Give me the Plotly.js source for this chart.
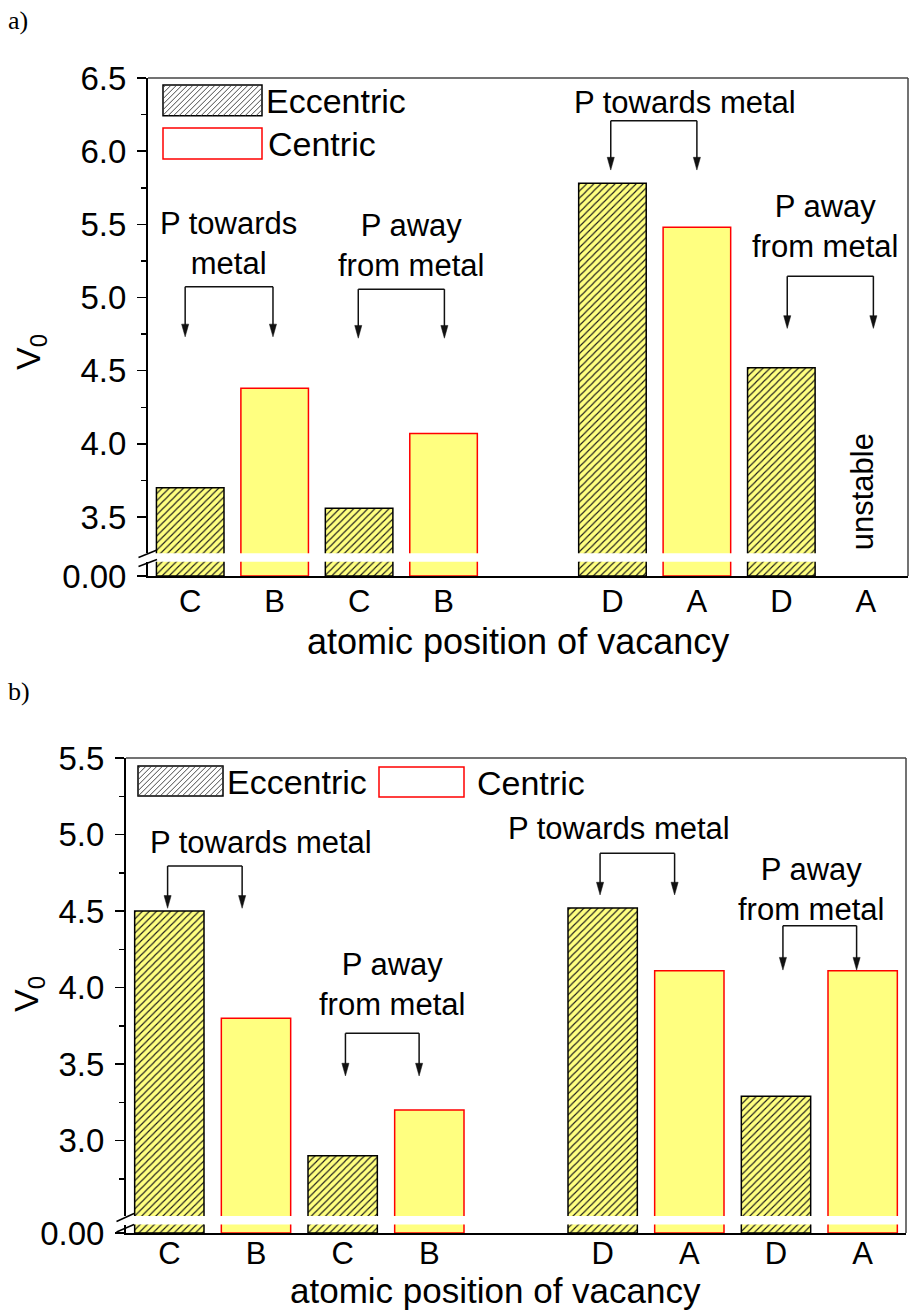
<!DOCTYPE html>
<html><head><meta charset="utf-8">
<script src="https://cdn.plot.ly/plotly-3.0.1.min.js"></script>
<style>html,body{margin:0;padding:0;background:#fff}#chart{width:911px;height:1310px}</style>
</head><body><div id="chart"></div>
<script>
// ---------------- data ----------------
const tickPositions = [1, 2, 3, 4, 6, 7, 8, 9];
const tickLabels = ['C', 'B', 'C', 'B', 'D', 'A', 'D', 'A'];
const eccentricPositions = [1, 3, 6, 8];
const centricPositions = [2, 4, 7, 9];
const eccentricA = [3.70, 3.56, 5.78, 4.52];
const centricA = [4.38, 4.07, 5.48, null];
const eccentricB = [4.50, 2.90, 4.52, 3.29];
const centricB = [3.80, 3.20, 4.11, 4.11];
const seriesNames = ['Eccentric', 'Centric'];
const xTitle = 'atomic position of vacancy';
const yTitle = 'V<sub>0</sub>';
const groupLabelsA = ['P towards<br>metal', 'P away<br>from metal', 'P towards metal', 'P away<br>from metal'];
const groupLabelsB = ['P towards metal', 'P away<br>from metal', 'P towards metal', 'P away<br>from metal'];
const unstableLabel = 'unstable';
const panelLabels = ['a)', 'b)'];

// ---------------- layout geometry (pixels of the 911x1310 page) ----------------
const W = 911, H = 1310;
const px = v => v / W;
const py = v => 1 - v / H;
const FONT = 'Liberation Sans, Arial, sans-serif';
const YELLOW = '#FFFF80';
const panelA = {x: [148, 908], up: [78, 553.3], low: [561.7, 576], range: [3.252, 6.5],
                xTitle: [518, 641], xTitleSize: 36, yTitle: [31, 352], labelStandoff: -3,
                arrowLen: 0.087, arrowHalf: 0.042};
const panelB = {x: [126, 906], up: [758, 1216], low: [1224.5, 1233], range: [2.507, 5.5],
                xTitle: [495, 1290], xTitleSize: 35, yTitle: [29, 994], labelStandoff: -8,
                arrowLen: 0.083, arrowHalf: 0.041};

// bracket geometry in data units: [xLeft, xRight, yBar, yTipLeft, yTipRight]
const bracketsA = [[0.94, 1.98, 5.073, 4.731, 4.731], [2.99, 4.01, 5.057, 4.722, 4.722],
                   [5.98, 7.00, 6.208, 5.871, 5.871], [8.07, 9.09, 5.146, 4.789, 4.789]];
const labelPosA = [[1.45, 5.372], [3.615, 5.355], [6.858, 6.335], [8.515, 5.483]];
const bracketsB = [[0.98, 1.84, 4.794, 4.518, 4.518], [3.032, 3.882, 3.701, 3.422, 3.422],
                   [5.97, 6.83, 4.877, 4.605, 4.605], [8.08, 8.93, 4.404, 4.114, 4.114]];
const labelPosB = [[2.06, 4.945], [3.567, 4.023], [6.19, 5.04], [8.405, 4.642]];

function bars(xs, ys, name, xa, ya, hatched) {
  const marker = {color: YELLOW, line: {color: hatched ? '#000000' : '#ff0000', width: 1.5}};
  if (hatched) marker.pattern = {shape: '/', fgcolor: '#1a1a1a', bgcolor: YELLOW, size: 5, solidity: 0.22};
  return {type: 'bar', x: xs, y: ys, name: name, xaxis: xa, yaxis: ya, width: 0.8,
          showlegend: false, hoverinfo: 'skip', marker: marker};
}

const traces = [];
[['x', 'y', 'x2', 'y2', eccentricA, centricA], ['x3', 'y3', 'x4', 'y4', eccentricB, centricB]].forEach(p => {
  traces.push(bars(eccentricPositions, p[4], seriesNames[0], p[0], p[1], true));
  traces.push(bars(centricPositions, p[5], seriesNames[1], p[0], p[1], false));
  traces.push(bars(eccentricPositions, p[4], seriesNames[0], p[2], p[3], true));
  traces.push(bars(centricPositions, p[5], seriesNames[1], p[2], p[3], false));
});

function xBottom(panel, anchor) {
  return {domain: [px(panel.x[0]), px(panel.x[1])], anchor: anchor, range: [0.5, 9.5],
          tickvals: tickPositions, ticktext: tickLabels, ticks: '', showline: true,
          linecolor: '#000', linewidth: 2, tickfont: {size: 31, color: '#000'},
          ticklabelstandoff: panel.labelStandoff,
          showgrid: false, zeroline: false, automargin: false};
}
function xHidden(match, panel, anchor) {
  return {matches: match, anchor: anchor, domain: [px(panel.x[0]), px(panel.x[1])],
          showticklabels: false, ticks: '', showline: false, showgrid: false, zeroline: false};
}
function yLow(panel, anchor) {
  return {domain: [py(panel.low[1]), py(panel.low[0])], anchor: anchor, range: [0, 1],
          tickvals: [0], ticktext: ['0.00'], ticks: 'outside', ticklen: 9, tickwidth: 1.5, tickcolor: '#000',
          showline: true, linecolor: '#000', linewidth: 2, tickfont: {size: 33, color: '#000'},
          ticklabelstandoff: 4, showgrid: false, zeroline: false, automargin: false};
}
function yUp(panel, anchor) {
  return {domain: [py(panel.up[1]), py(panel.up[0])], anchor: anchor, range: panel.range,
          tick0: 0, dtick: 0.5, tickformat: '.1f', ticks: 'outside', ticklen: 9, tickwidth: 1.5, tickcolor: '#000',
          minor: {dtick: 0.25, ticks: 'outside', ticklen: 5, tickwidth: 1.5, tickcolor: '#000', showgrid: false},
          showline: true, linecolor: '#000', linewidth: 2, tickfont: {size: 33, color: '#000'},
          ticklabelstandoff: 4, showgrid: false, zeroline: false, automargin: false};
}

const shapes = [];
const annotations = [];

function line(x0, y0, x1, y1, color, width) {
  shapes.push({type: 'line', xref: 'paper', yref: 'paper', x0: px(x0), y0: py(y0), x1: px(x1), y1: py(y1),
               line: {color: color, width: width}});
}
// frame (top + right) and axis-break marks
[panelA, panelB].forEach(p => {
  line(p.x[0], p.up[0], p.x[1], p.up[0], '#444', 1.5);
  line(p.x[1], p.up[0], p.x[1], p.low[1], '#444', 1.5);
});
line(138.5, 557.5, 157, 550, '#000', 1.5);
line(138.5, 566.5, 157, 559.5, '#000', 1.5);
line(116.5, 1221.5, 134, 1213.5, '#000', 1.5);
line(116.5, 1232, 134, 1224.5, '#000', 1.5);

// legend swatches
function swatch(x0, y0, x1, y1, color, hatched) {
  shapes.push({type: 'rect', xref: 'paper', yref: 'paper', x0: px(x0), y0: py(y0), x1: px(x1), y1: py(y1),
               fillcolor: '#fff', line: {color: color, width: 1.5}});
  if (!hatched) return;
  const h = y1 - y0, s = 5.5;
  for (let c = x0 - h + s / 2; c < x1; c += s) {
    let ax = c, ay = y1, bx = c + h, by = y0;
    if (ax < x0) { ay = y1 - (x0 - ax); ax = x0; }
    if (bx > x1) { by = y0 + (bx - x1); bx = x1; }
    if (bx - ax < 0.5) continue;
    line(ax, ay, bx, by, '#333', 0.9);
  }
}
function legendText(x, y, text) {
  annotations.push({xref: 'paper', yref: 'paper', x: px(x), y: py(y), text: text, showarrow: false,
                    xanchor: 'left', yanchor: 'middle', font: {size: 34, color: '#000'}});
}
swatch(163, 85, 262, 115.7, '#000', true);
swatch(163, 128, 262, 159, '#ff0000', false);
legendText(264, 101, seriesNames[0]);
legendText(266, 144, seriesNames[1]);
swatch(138, 766, 223, 796, '#000', true);
swatch(379, 767, 464, 797, '#ff0000', false);
legendText(225, 782, seriesNames[0]);
legendText(475, 783, seriesNames[1]);

// brackets with arrows and their labels
function brackets(list, labels, pos, xa, ya, panel) {
  const L = panel.arrowLen, w = panel.arrowHalf;
  list.forEach((b, i) => {
    shapes.push({type: 'line', xref: xa, yref: ya, x0: b[0], y0: b[2], x1: b[1], y1: b[2],
                 line: {color: '#111', width: 1.5}});
    [[b[0], b[3]], [b[1], b[4]]].forEach(t => {
      shapes.push({type: 'line', xref: xa, yref: ya, x0: t[0], y0: b[2], x1: t[0], y1: t[1] + L * 0.6,
                   line: {color: '#111', width: 1.5}});
      shapes.push({type: 'path', xref: xa, yref: ya,
                   path: 'M' + t[0] + ',' + t[1] + ' L' + (t[0] - w) + ',' + (t[1] + L) +
                         ' L' + (t[0] + w) + ',' + (t[1] + L) + ' Z',
                   fillcolor: '#111', line: {color: '#111', width: 0.5}});
    });
    annotations.push({xref: xa, yref: ya, x: pos[i][0], y: pos[i][1], text: labels[i], showarrow: false,
                      xanchor: 'center', yanchor: 'middle', font: {size: 31, color: '#000'}});
  });
}
brackets(bracketsA, groupLabelsA, labelPosA, 'x2', 'y2', panelA);
brackets(bracketsB, groupLabelsB, labelPosB, 'x4', 'y4', panelB);

// axis titles
[panelA, panelB].forEach(p => {
  annotations.push({xref: 'paper', yref: 'paper', x: px(p.xTitle[0]), y: py(p.xTitle[1]), text: xTitle,
                    showarrow: false, xanchor: 'center', yanchor: 'middle',
                    font: {size: p.xTitleSize, color: '#000'}});
  annotations.push({xref: 'paper', yref: 'paper', x: px(p.yTitle[0]), y: py(p.yTitle[1]), text: yTitle,
                    textangle: -90, showarrow: false, xanchor: 'center', yanchor: 'middle',
                    font: {size: 34, color: '#000'}});
});

annotations.push({xref: 'x2', yref: 'y2', x: 8.97, y: 3.671, text: unstableLabel, textangle: -90,
                  showarrow: false, xanchor: 'center', yanchor: 'middle', font: {size: 31, color: '#000'}});
const serif = 'Liberation Serif, Times New Roman, serif';
annotations.push({xref: 'paper', yref: 'paper', x: px(6), y: py(20), text: panelLabels[0], showarrow: false,
                  xanchor: 'left', yanchor: 'middle', font: {size: 26, color: '#000', family: serif}});
annotations.push({xref: 'paper', yref: 'paper', x: px(6), y: py(692), text: panelLabels[1], showarrow: false,
                  xanchor: 'left', yanchor: 'middle', font: {size: 26, color: '#000', family: serif}});

const layout = {
  width: W, height: H, margin: {l: 0, r: 0, t: 0, b: 0, pad: 0},
  paper_bgcolor: '#fff', plot_bgcolor: 'rgba(0,0,0,0)',
  font: {family: FONT, color: '#000'}, barmode: 'overlay', showlegend: false,
  xaxis: xBottom(panelA, 'y'), yaxis: yLow(panelA, 'x'),
  xaxis2: xHidden('x', panelA, 'y2'), yaxis2: yUp(panelA, 'x2'),
  xaxis3: xBottom(panelB, 'y3'), yaxis3: yLow(panelB, 'x3'),
  xaxis4: xHidden('x3', panelB, 'y4'), yaxis4: yUp(panelB, 'x4'),
  shapes: shapes, annotations: annotations
};
Plotly.newPlot('chart', traces, layout, {displayModeBar: false, staticPlot: true});
</script></body></html>
